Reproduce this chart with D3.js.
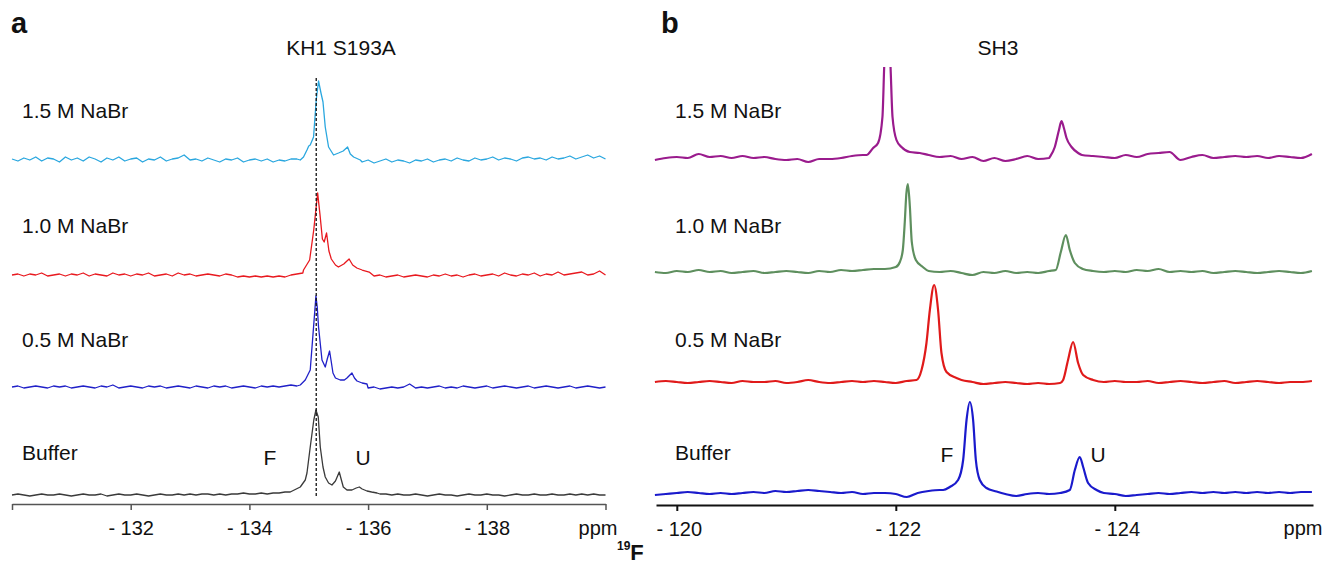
<!DOCTYPE html>
<html>
<head>
<meta charset="utf-8">
<script src="https://cdnjs.cloudflare.com/ajax/libs/d3/7.8.5/d3.min.js"></script>
<style>
  body { margin: 0; background: #fff; }
  svg text { font-family: "Liberation Sans", Arial, sans-serif; fill: #111; }
</style>
</head>
<body>
<div id="visualContainer"></div>
<script>
// ---------- panel a : KH1 S193A ----------
// baseline samples every 0.1 ppm from -130.0 to -140.0 (null = covered by peak points)
var gridA = {start: -130, step: -0.1};
var labelsA = ["Buffer", "0.5 M NaBr", "1.0 M NaBr", "1.5 M NaBr"];
var ticksA = [-130, -132, -134, -136, -138, -140];

var noiseA_buf = [0,1,0,-1,0,1,0,0,1,0, -1,0,1,0,0,1,-1,0,1,0, 0,1,0,-1,0,1,0,0,1,0,
  1,0,1,1,0,1,0,1,1,2, 1,1,2,1,2,2,3,
  null,null,null,null,null,null,null,null,null,null,null,null,null,null,null,
  1,1,0,1,0,0,1,0, -1,0,1,0,0,-1,0,1,0,0, 1,0,0,-1,0,1,0,0,1,0, 0,1,0,0,1,0,1,0,1,0,0];
var noiseA_05 = [0,1,-1,0,1,0,-1,1,0,1, -1,0,1,0,-1,1,0,2,-1,0, 1,0,-1,1,0,1,-1,0,1,0,
  -1,1,0,-1,1,0,1,-1,0,1, 0,-1,1,0,1,0,1,2,1,
  null,null,null,null,null,null,null,null,null,null,null,
  -1,0,-2,-1,0,-1,0,3,-1,0, -1,0,1,-1,0,-1,1,0,-1,0, 1,-1,0,1,0,-1,0,1,-1,0, 1,0,-1,0,1,-1,0,1,0,-1,0];
var noiseA_10 = [0,1,-1,1,0,2,-1,0,1,-1, 1,0,2,-1,1,0,-1,2,0,1, -1,1,0,2,-1,0,1,-1,2,0,
  1,-1,0,1,0,-1,1,0,-2,-1, -2,-1,-2,-1,-2,-1,-2,0,1,2,
  null,null,null,null,null,null,null,null,null,null,null,
  -1,0,-2,-1,0,-2,-1,0,-1,-2, 0,-1,1,-1,0,-2,0,1,-1,0, 1,-1,2,0,-1,1,0,2,-1,1, 0,3,0,1,2,3,0,1,4,0];
var noiseA_15 = [1,-1,2,0,3,-1,2,1,-2,3, 0,2,-1,3,1,-2,2,0,3,-1, 1,2,-2,1,0,3,-1,1,2,5,
  0,1,-1,2,0,-2,1,0,2,-2, 0,1,-1,1,-2,0,-1,1,1,
  null,null,null,null,null,null,null,null,null,null,
  -2,0,-3,-1,1,-2,0,-1,-3,0,-1, 1,-2,0,1,-1,2,0,-1,2,0, 1,3,0,2,1,-1,2,3,1,2, 0,3,1,2,4,1,3,5,2,4,1];

var peaksA_buf = [[-134.688,3],[-134.857,8],[-134.941,15],[-134.970,22],[-135.025,48],[-135.085,75],
  [-135.121,85],[-135.160,78],[-135.194,48],[-135.240,28],[-135.278,18],[-135.334,12],[-135.391,10],
  [-135.450,14],[-135.514,23],[-135.550,15],[-135.582,8],[-135.644,5],[-135.728,5],[-135.800,7],
  [-135.852,8],[-135.900,6],[-135.981,4],[-136.060,3],[-136.150,2]];
var peaksA_05 = [[-134.857,2],[-134.941,7],[-135.025,17],[-135.081,60],[-135.121,91],[-135.143,80],
  [-135.165,60],[-135.223,27],[-135.278,20],[-135.312,28],[-135.351,36],[-135.380,25],[-135.408,14],
  [-135.450,9],[-135.531,7],[-135.600,7],[-135.644,9],[-135.728,14],[-135.770,9],[-135.813,6],
  [-135.900,4],[-135.981,3]];
var peaksA_10 = [[-134.912,5],[-135.015,15],[-135.084,45],[-135.150,82],[-135.190,60],[-135.230,36],
  [-135.260,33],[-135.300,42],[-135.340,24],[-135.380,16],[-135.450,10],[-135.500,8],[-135.590,11],
  [-135.680,16],[-135.740,10],[-135.810,7],[-135.900,5],[-136.018,3]];
var peaksA_15 = [[-134.857,0],[-134.912,3],[-134.970,10],[-135.000,14],[-135.025,15],[-135.081,23],
  [-135.126,60],[-135.165,79],[-135.206,67],[-135.240,58],[-135.278,33],[-135.334,13],[-135.418,5],
  [-135.502,7],[-135.580,9],[-135.654,13],[-135.700,6],[-135.756,3],[-135.868,0]];

var offsetsA = [0, 108, 220, 335];
var colorsA = ["#3a3a3a", "#2020c8", "#e8191f", "#2aa7df"];
var refLineA = -135.126;

// ---------- panel b : SH3 ----------
// baseline samples every 0.1 ppm from -119.8 to -125.8
var gridB = {start: -119.8, step: -0.1};
var labelsB = ["Buffer", "0.5 M NaBr", "1.0 M NaBr", "1.5 M NaBr"];
var ticksB = [-120, -122, -124];

var noiseB_buf = [-2,-1,0,1,0,-1,0,-1,0,1, 0,2,1,2,3,2,1,0,1,-1, 0,0,-1,-4,0,2,3,
  null,null,null,null,null, -1,-3,-1,0,-1,0, null,null,null,
  0,-1,-3,-2,-1,0,-1,0,1,0, 1,0,1,0,1,0,1,0,1,1];
var noiseB_05 = [0,1,0,-1,0,1,0,-1,1,0, 0,1,-1,0,2,0,-1,0,1,0, 1,0,-1,1,
  null,null,null,null, 2,0,-2,-1,0,-1,-2,-1,-2,-1, null,null,null,
  0,1,0,0,1,-1,0,1,0,-1, 0,1,-1,0,1,0,-1,0,0,1];
var noiseB_10 = [0,-1,1,0,2,0,1,-1,0,1, -1,0,1,0,-1,1,0,2,1,2, 3,3,5,
  null,null, 1,0,1,-1,-3,0,-1,1,-1,0,-1,1, null,null,null,
  1,0,1,0,2,1,3,0,1,0, 1,-1,0,1,0,-1,0,1,0,-1,1];
var noiseB_15 = [-2,0,1,0,4,1,2,0,2,0, 1,-1,-2,-1,-4,-1,-1,0,2,3,
  null,null,null,null,null, 3,1,2,-1,1,-3,0,-3,-1,2,-1,0, null,null,
  3,2,1,0,3,1,4,5,6,-2, 1,3,0,1,2,1,2,0,2,1,0,4];

var peaksB_buf = [[-122.432,3],[-122.493,6],[-122.569,13],[-122.615,33],[-122.646,73],[-122.676,91],
  [-122.706,73],[-122.731,33],[-122.767,13],[-122.828,5],[-122.920,1.5],
  [-123.589,3],[-123.635,23],[-123.680,36],[-123.711,26],[-123.756,10],[-123.833,3]];
var peaksB_05 = [[-122.189,2],[-122.235,12],[-122.280,39],[-122.311,72],[-122.350,97],[-122.386,72],
  [-122.417,29],[-122.463,10],[-122.554,4],
  [-123.528,2],[-123.573,22],[-123.619,40],[-123.665,19],[-123.711,7],[-123.802,2]];
var peaksB_10 = [[-122.037,10],[-122.064,22],[-122.082,50],[-122.096,78],[-122.110,88],[-122.128,66],
  [-122.146,30],[-122.183,12],[-122.247,5],
  [-123.461,2],[-123.507,20],[-123.553,37],[-123.589,22],[-123.635,9],[-123.708,3]];
var peaksB_15 = [[-121.732,3],[-121.793,10],[-121.838,15],[-121.878,41],[-121.900,105],[-121.922,115],
  [-121.945,105],[-121.970,41],[-122.006,18],[-122.052,11],[-122.128,6],[-122.219,5],
  [-123.406,1],[-123.452,11],[-123.490,28],[-123.513,37],[-123.535,30],[-123.559,20],[-123.605,11],[-123.665,5]];

var offsetsB = [0, 111, 221, 335];
var colorsB = ["#1a1acc", "#e01a1a", "#5e8f5e", "#9a1b8d"];

// merge baseline samples and peak points into one sorted trace
function buildTrace(grid, noise, peaks) {
  var pts = [];
  noise.forEach(function(v, i) {
    if (v !== null) pts.push([grid.start + grid.step * i, v]);
  });
  peaks.forEach(function(p) { pts.push(p); });
  pts.sort(function(a, b) { return b[0] - a[0]; });
  return pts;
}

var tracesA = [
  buildTrace(gridA, noiseA_buf, peaksA_buf),
  buildTrace(gridA, noiseA_05, peaksA_05),
  buildTrace(gridA, noiseA_10, peaksA_10),
  buildTrace(gridA, noiseA_15, peaksA_15)
];
var tracesB = [
  buildTrace(gridB, noiseB_buf, peaksB_buf),
  buildTrace(gridB, noiseB_05, peaksB_05),
  buildTrace(gridB, noiseB_10, peaksB_10),
  buildTrace(gridB, noiseB_15, peaksB_15)
];

var svgCanvas = d3.select("#visualContainer")
  .append("svg")
  .attr("width", 1336)
  .attr("height", 580);

var labelY = [460, 347, 233, 118];

// ===== panel a =====
var xA = d3.scaleLinear().domain([-130, -140]).range([12, 605.5]);
var yA = d3.scaleLinear().domain([0, 430]).range([495, 65]);

var axisA = d3.axisBottom(xA)
  .tickValues(ticksA)
  .tickSize(6)
  .tickSizeOuter(0)
  .tickPadding(11)
  .tickFormat(function(d) { return (d === -130 || d === -140) ? "" : "- " + Math.abs(d); });

var gA = svgCanvas.append("g")
  .attr("transform", "translate(0,504)")
  .call(axisA);
gA.select(".domain").attr("stroke", "#555").attr("stroke-width", 1.5);
gA.selectAll(".tick line").attr("stroke", "#555").attr("stroke-width", 1.5);
gA.selectAll(".tick text")
  .attr("font-size", 20)
  .attr("font-family", "Liberation Sans, Arial, sans-serif")
  .attr("fill", "#111");

svgCanvas.append("text").attr("x", 598).attr("y", 535)
  .attr("text-anchor", "middle").attr("font-size", 20).text("ppm");

tracesA.forEach(function(tr, k) {
  var line = d3.line()
    .x(function(d) { return xA(d[0]); })
    .y(function(d) { return yA(offsetsA[k] + d[1]); });
  svgCanvas.append("path")
    .datum(tr)
    .attr("d", line)
    .attr("fill", "none")
    .attr("stroke", colorsA[k])
    .attr("stroke-width", 1.3)
    .attr("stroke-linejoin", "round");
  svgCanvas.append("text").attr("x", 22).attr("y", labelY[k])
    .attr("font-size", 21).text(labelsA[k]);
});

// dashed reference line through the folded peak
svgCanvas.append("line")
  .attr("x1", xA(refLineA)).attr("x2", xA(refLineA))
  .attr("y1", 78).attr("y2", 497)
  .attr("stroke", "#111").attr("stroke-width", 1.3)
  .attr("stroke-dasharray", "3,2");

svgCanvas.append("text").attr("x", 270).attr("y", 465)
  .attr("text-anchor", "middle").attr("font-size", 21).text("F");
svgCanvas.append("text").attr("x", 363).attr("y", 465)
  .attr("text-anchor", "middle").attr("font-size", 21).text("U");

svgCanvas.append("text").attr("x", 341).attr("y", 55)
  .attr("text-anchor", "middle").attr("font-size", 21).text("KH1 S193A");
svgCanvas.append("text").attr("x", 11).attr("y", 33)
  .attr("font-size", 29).attr("font-weight", "bold").text("a");

// ===== panel b =====
var xB = d3.scaleLinear().domain([-119.81, -125.81]).range([656, 1313]);
var yB = d3.scaleLinear().domain([0, 430]).range([493, 63]);

var axisB = d3.axisBottom(xB)
  .tickValues(ticksB)
  .tickSize(6)
  .tickSizeOuter(0)
  .tickPadding(11)
  .tickFormat(function(d) { return "- " + Math.abs(d); });

var gB = svgCanvas.append("g")
  .attr("transform", "translate(0,505)")
  .call(axisB);
gB.select(".domain").attr("stroke", "#111").attr("stroke-width", 2);
gB.selectAll(".tick line").attr("stroke", "#111").attr("stroke-width", 2);
gB.selectAll(".tick text")
  .attr("font-size", 20)
  .attr("font-family", "Liberation Sans, Arial, sans-serif")
  .attr("fill", "#111")
  .attr("dx", 2);

svgCanvas.append("text").attr("x", 1303).attr("y", 535)
  .attr("text-anchor", "middle").attr("font-size", 20).text("ppm");

svgCanvas.append("clipPath").attr("id", "clipB")
  .append("rect").attr("x", 640).attr("y", 67).attr("width", 690).attr("height", 440);

tracesB.forEach(function(tr, k) {
  var line = d3.line()
    .curve(d3.curveMonotoneX)
    .x(function(d) { return xB(d[0]); })
    .y(function(d) { return yB(offsetsB[k] + d[1]); });
  svgCanvas.append("path")
    .datum(tr)
    .attr("d", line)
    .attr("clip-path", "url(#clipB)")
    .attr("fill", "none")
    .attr("stroke", colorsB[k])
    .attr("stroke-width", 2.2)
    .attr("stroke-linejoin", "round");
  svgCanvas.append("text").attr("x", 675).attr("y", labelY[k])
    .attr("font-size", 21).text(labelsB[k]);
});

svgCanvas.append("text").attr("x", 947).attr("y", 462)
  .attr("text-anchor", "middle").attr("font-size", 21).text("F");
svgCanvas.append("text").attr("x", 1098).attr("y", 462)
  .attr("text-anchor", "middle").attr("font-size", 21).text("U");

svgCanvas.append("text").attr("x", 998).attr("y", 55)
  .attr("text-anchor", "middle").attr("font-size", 21).text("SH3");
svgCanvas.append("text").attr("x", 661).attr("y", 33)
  .attr("font-size", 29).attr("font-weight", "bold").text("b");

// 19F nucleus label under both panels
var nuc = svgCanvas.append("text").attr("x", 617).attr("y", 560).attr("font-weight", "bold");
nuc.append("tspan").attr("font-size", 12).attr("dy", -10).text("19");
nuc.append("tspan").attr("font-size", 22).attr("dy", 10).text("F");
</script>
</body>
</html>
